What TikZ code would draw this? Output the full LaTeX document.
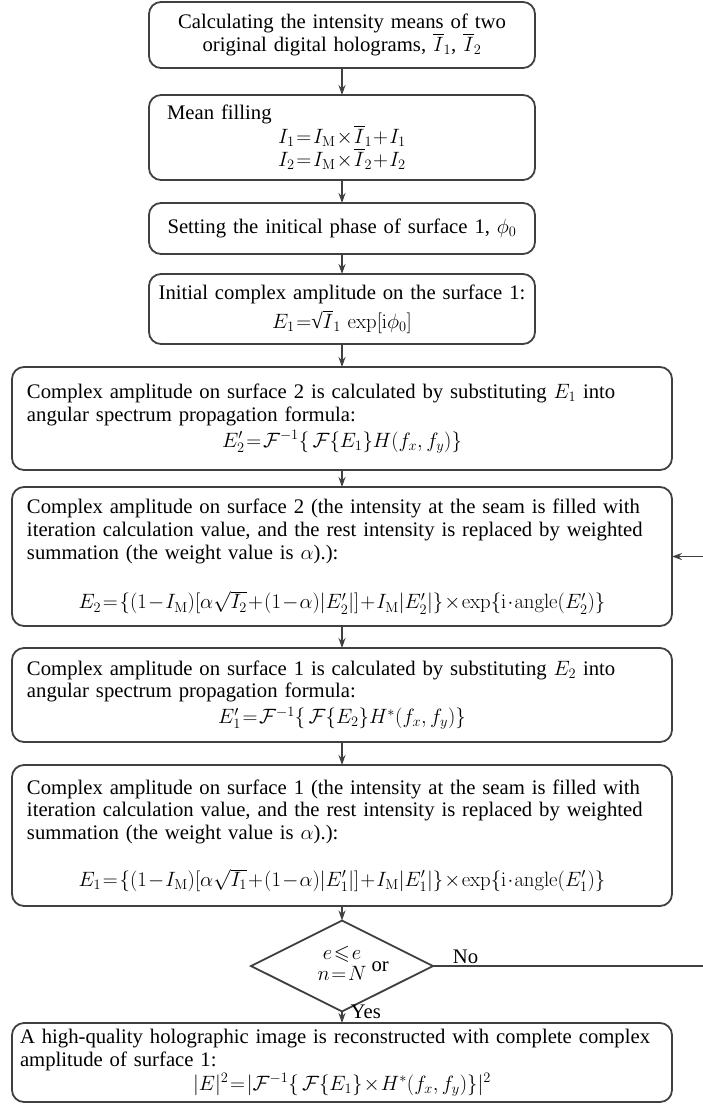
\documentclass[tikz,border=0pt]{standalone}
\usepackage{amsmath}
\usepackage{amssymb}
\usepackage[no-math]{fontspec}
\setmainfont{Liberation Serif}
\usetikzlibrary{arrows.meta,shapes.geometric}
\definecolor{lngray}{RGB}{64,64,64}
% tight math, as in the formulas of the flow chart
\thickmuskip=1.5mu
\medmuskip=1mu

\begin{document}
\begin{tikzpicture}[x=1pt,y=-1pt,
  box/.style={draw=lngray,line width=1.8pt,rounded corners=12pt,inner sep=0pt,outer sep=0pt,
    minimum width=386pt,font=\fontsize{20.7}{22.8}\selectfont},
  wbox/.style={box,minimum width=660pt,text width=630pt,align=left},
  decision/.style={diamond,draw=lngray,line width=1.8pt,inner sep=0pt,outer sep=0pt,
    minimum width=182pt,minimum height=70pt,font=\fontsize{20.7}{21}\selectfont},
  arr/.style={draw=lngray,line width=1.4pt,-{Stealth[length=10pt,width=7pt]}},
  lbl/.style={font=\fontsize{20.7}{23}\selectfont,inner sep=2pt}]
\useasboundingbox (0,0) rectangle (702,1106);

% upper column of narrow boxes
\node[box,minimum height=66pt,text width=374pt,align=center] (means) at (342,35)
  {Calculating the intensity means of two\\ original digital holograms, $\overline{I}_1$, $\overline{I}_2$};
\node[box,minimum height=85pt,text width=350pt,align=left] (fill) at (342,137.5)
  {Mean filling\\[1pt]
   \makebox[\linewidth]{$I_1=I_\mathrm{M}\times\overline{I}_1+I_1$}\\[0pt]
   \makebox[\linewidth]{$I_2=I_\mathrm{M}\times\overline{I}_2+I_2$}};
\node[box,minimum height=51pt,text width=374pt,align=center] (phase) at (342,228.5)
  {Setting the initical phase of surface 1, $\phi_0$};
\node[box,minimum height=70pt,text width=382pt,align=center] (init) at (342,309)
  {Initial complex amplitude on the surface 1:\\[6pt]
   $E_1=$√$\overline{I}_1\,\exp[\mathrm{i}\phi_0]$};

% iteration loop
\node[wbox,minimum height=103pt] (prop2) at (342,418.5)
  {Complex amplitude on surface 2 is calculated by substituting $E_1$ into\\
   angular spectrum propagation formula:\\[3pt]
   \makebox[\linewidth]{$E'_2=\mathcal{F}^{-1}\{\,\mathcal{F}\{E_1\}H(f_x,f_y)\}$}};
\node[wbox,minimum height=139pt] (surf2) at (342,556.5)
  {Complex amplitude on surface 2 (the intensity at the seam is filled with\\
   iteration calculation value, and the rest intensity is replaced by weighted\\
   summation (the weight value is $\alpha$).):\\[27pt]
   \makebox[\linewidth]{$E_2=\{(1-I_\mathrm{M})[\alpha\sqrt{I_2}+(1-\alpha)|E'_2|]+I_\mathrm{M}|E'_2|\}\times\exp\{\mathrm{i}\cdot\mathrm{angle}(E'_2)\}$}};
\node[wbox,minimum height=94pt] (prop1) at (342,695)
  {Complex amplitude on surface 1 is calculated by substituting $E_2$ into\\
   angular spectrum propagation formula:\\[3pt]
   \makebox[\linewidth]{$E'_1=\mathcal{F}^{-1}\{\,\mathcal{F}\{E_2\}H^*(f_x,f_y)\}$}};
\node[wbox,minimum height=141pt] (surf1) at (342,835.5)
  {Complex amplitude on surface 1 (the intensity at the seam is filled with\\
   iteration calculation value, and the rest intensity is replaced by weighted\\
   summation (the weight value is $\alpha$).):\\[24pt]
   \makebox[\linewidth]{$E_1=\{(1-I_\mathrm{M})[\alpha\sqrt{I_1}+(1-\alpha)|E'_1|]+I_\mathrm{M}|E'_1|\}\times\exp\{\mathrm{i}\cdot\mathrm{angle}(E'_1)\}$}};

% stop test and result
\node[decision] (stop) at (342,966)
  {\begin{tabular}{@{}c@{}}$e\leqslant e$\\ $n=N$\end{tabular}\rlap{\ or}};
\node[box,minimum width=660pt,minimum height=79pt,text width=644pt,align=left] (result) at (342,1062.5)
  {A high-quality holographic image is reconstructed with complete complex\\
   amplitude of surface 1:\\[1pt]
   \makebox[\linewidth]{$|E|^2=|\mathcal{F}^{-1}\{\,\mathcal{F}\{E_1\}\times H^*(f_x,f_y)\}|^2$}};

\coordinate (back) at (704,966);

% connectors
\draw[arr] (means) -- (fill);
\draw[arr] (fill) -- (phase);
\draw[arr] (phase) -- (init);
\draw[arr] (init) -- (prop2);
\draw[arr] (prop2) -- (surf2);
\draw[arr] (surf2) -- (prop1);
\draw[arr] (prop1) -- (surf1);
\draw[arr] (surf1) -- (stop);
\draw[arr] (stop) -- node[lbl,pos=0,anchor=base west,xshift=6pt,yshift=-7pt] {Yes} (result);
\draw[arr] (stop.east) -- node[lbl,pos=0.12,anchor=south] {No} (back) |- (surf2.east);
\end{tikzpicture}
\end{document}
